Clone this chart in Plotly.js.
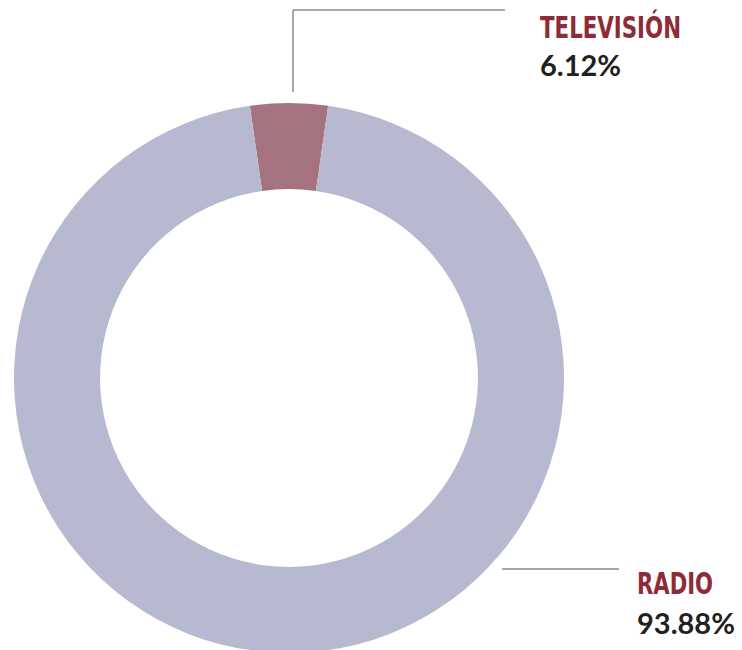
<!DOCTYPE html>
<html>
<head>
<meta charset="utf-8">
<script src="https://cdn.plot.ly/plotly-3.0.1.min.js"></script>
<style>
  html, body { margin: 0; padding: 0; overflow: hidden; background: #fff; }
  #chart { width: 742px; height: 700px; }
</style>
</head>
<body>
<div id="chart"></div>
<script>
// slice shares as drawn (measured from the wedge), labels as printed
var categories = ["TELEVISIÓN", "RADIO"]
var shares = [4.55, 95.45]
var pctLabels = ["6.12%", "93.88%"]
var sliceColors = ["#a4737f", "#b7b9d0"]

var W = 742, H = 700
function px(x) { return x / W }
function py(y) { return 1 - y / H }

// donut geometry (pixels)
var cx = 289, cy = 378, r = 275

var data = [{
    type: "pie",
    labels: categories,
    values: shares,
    sort: false,
    direction: "clockwise",
    rotation: -shares[0] * 360 / 100 / 2,
    hole: 0.687,
    textinfo: "none",
    hoverinfo: "none",
    marker: { colors: sliceColors, line: { width: 0 } },
    domain: { x: [px(cx - r), px(cx + r)], y: [py(cy + r), py(cy - r)] },
    showlegend: false
}]

var nameFont = { family: "Liberation Sans Narrow, DejaVu Sans Condensed, sans-serif", size: 30, color: "#8e2b36" }
var pctFont = { family: "Lato, Open Sans, sans-serif", size: 29, color: "#231f20" }

var annotations = [
    { text: "<b>" + categories[0] + "</b>", x: px(538), y: py(7), font: nameFont },
    { text: "<b>" + pctLabels[0] + "</b>", x: px(538), y: py(45), font: pctFont },
    { text: "<b>" + categories[1] + "</b>", x: px(635), y: py(564), font: nameFont },
    { text: "<b>" + pctLabels[1] + "</b>", x: px(635), y: py(603), font: pctFont }
].map(function (a) {
    return Object.assign({ xref: "paper", yref: "paper", xanchor: "left", yanchor: "top", showarrow: false, align: "left" }, a)
})

var lineStyle = { color: "#8a8a8a", width: 1.5 }
var shapes = [
    { type: "line", x0: px(293), x1: px(293), y0: py(92), y1: py(10) },
    { type: "line", x0: px(293), x1: px(505), y0: py(10), y1: py(10) },
    { type: "line", x0: px(502), x1: px(619), y0: py(569), y1: py(569) }
].map(function (s) {
    return Object.assign({ xref: "paper", yref: "paper", line: lineStyle }, s)
})

var layout = {
    width: W,
    height: H,
    margin: { t: 0, b: 0, l: 0, r: 0 },
    paper_bgcolor: "#ffffff",
    annotations: annotations,
    shapes: shapes
}

// the original uses a condensed face; squeeze the names to its widths
var nameWidths = { "TELEVISIÓN": 141, "RADIO": 76 }

Plotly.newPlot("chart", data, layout, { staticPlot: true }).then(function () {
    document.querySelectorAll("#chart .annotation-text").forEach(function (t) {
        var w = nameWidths[t.textContent]
        if (!w) return
        var bb = t.getBBox()
        t.setAttribute("x", bb.x)
        t.style.textAnchor = "start"
        t.setAttribute("textLength", w)
        t.setAttribute("lengthAdjust", "spacingAndGlyphs")
    })
})
</script>
</body>
</html>
